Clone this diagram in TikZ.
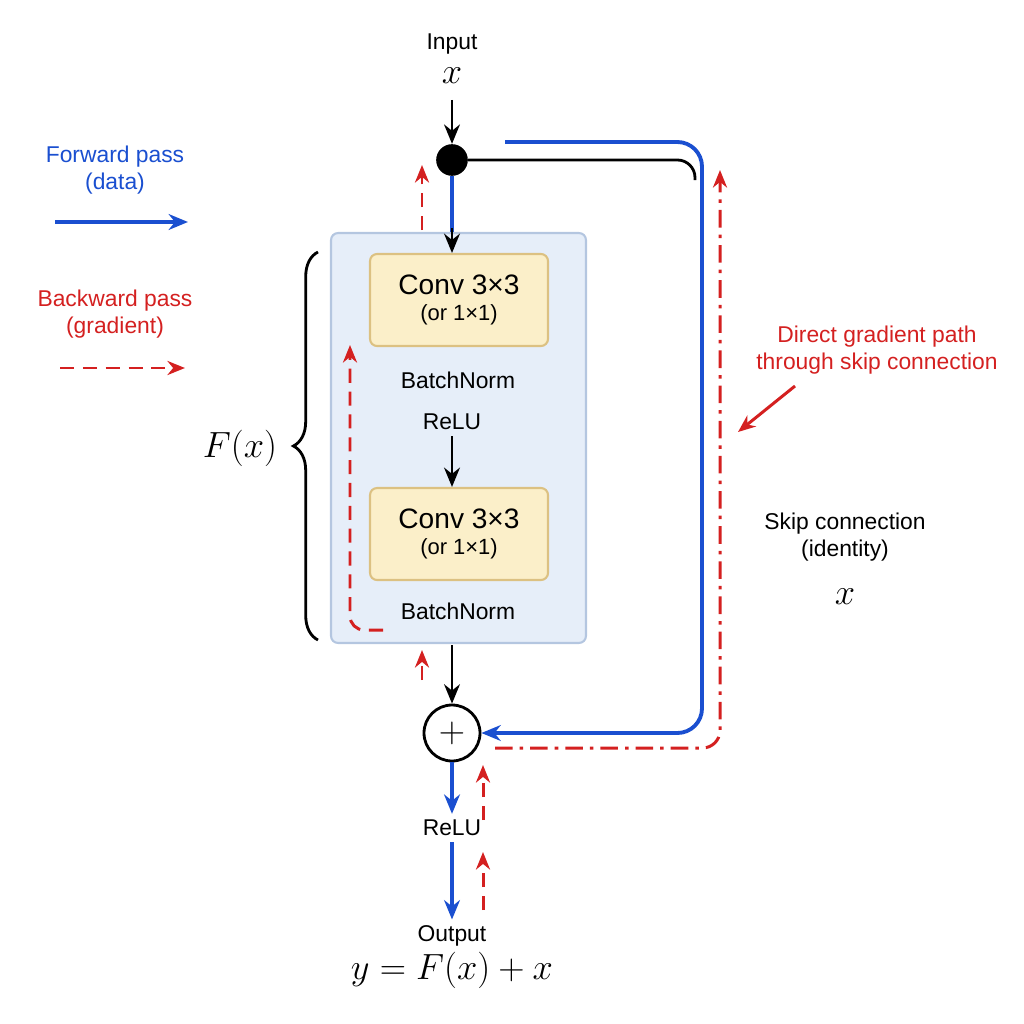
\documentclass[tikz,border=0pt]{standalone}
\usepackage{fontspec}
\setmainfont{Liberation Sans}
\usetikzlibrary{arrows.meta,decorations.pathreplacing,positioning}
\definecolor{fwd}{HTML}{1A4FD0}
\definecolor{bwd}{HTML}{D42020}
\definecolor{blockfill}{HTML}{E6EEF9}
\definecolor{blockdraw}{HTML}{B4C6E0}
\definecolor{convfill}{HTML}{FBEFC9}
\definecolor{convdraw}{HTML}{DCC182}
\tikzset{
	lbl/.style={font=\fontsize{13}{15}\selectfont},
	mth/.style={font=\fontsize{20}{22}\selectfont},
	conv/.style={draw=convdraw, fill=convfill, line width=1.2pt, rounded corners=4pt,
		minimum width=3.56cm, minimum height=1.84cm, align=center},
	fwdline/.style={fwd, line width=2.2pt, -{Stealth[length=11pt,width=9pt]}},
	blkarrow/.style={black, line width=1.6pt, -{Stealth[length=11pt,width=9pt]}},
	bwdline/.style={bwd, line width=1.7pt, dashed, dash pattern=on 8pt off 5pt, -{Stealth[length=10pt,width=8pt]}}
}
\begin{document}
\begin{tikzpicture}[x=0.02cm, y=-0.02cm]
	\useasboundingbox (0,0) rectangle (1024,1024);
	% Block
	\node[draw=blockdraw, fill=blockfill, line width=1.2pt, rounded corners=4pt,
		minimum width=5.1cm, minimum height=8.2cm] (block) at (458.5,438) {};
	\node[conv] (conv1) at (459,300) {\fontsize{16}{18}\selectfont Conv 3×3\\[3pt]\fontsize{12.5}{14}\selectfont (or 1×1)};
	\node[conv] (conv2) at (459,534) {\fontsize{16}{18}\selectfont Conv 3×3\\[3pt]\fontsize{12.5}{14}\selectfont (or 1×1)};
	\node[lbl] (bn1) at (458,380) {BatchNorm};
	\node[lbl] (relu1) at (452,422) {ReLU};
	\node[lbl] (bn2) at (458,611) {BatchNorm};
	% Input, output
	\node[lbl] (input) at (452,44) {Input};
	\node[mth] (xin) at (452,76) {$x$};
	\node[circle, fill=black, inner sep=0pt, minimum size=18pt] (dot) at (452,160) {};
	\node[circle, draw, line width=1.6pt, minimum size=1.12cm, inner sep=0pt, font=\huge] (plus) at (452,733) {$+$};
	\node[lbl] (relu2) at (452,828) {ReLU};
	\node[lbl] (output) at (452,936) {Output};
	\node[mth] (yout) at (452,970) {$y = F(x) + x$};
	% Forward
	\draw[blkarrow] (xin) ++(0,24) -- (dot);
	\draw[fwd, line width=2.2pt] (dot) -- (452,232);
	\draw[blkarrow] (452,228) -- (452,253);
	\draw[blkarrow] (relu1) -- (relu1 |- conv2.north);
	\draw[blkarrow] (452,645) -- (plus);
	\draw[fwdline] (plus) -- (relu2);
	\draw[fwdline] (relu2) -- (output);
	\draw[black, line width=1.6pt, rounded corners=10pt] (dot) -- (695,160) -- (695,180);
	\draw[fwdline, rounded corners=14pt] (505,142) -- (702,142) -- (702,733) -- (plus.east);
	% Backward
	\coordinate (gtop) at (720,170);
	\draw[bwdline, dash pattern=on 10pt off 4pt on 2pt off 4pt, rounded corners=10pt]
		(495,748) -- (720,748) -- (gtop);
	\draw[bwdline] (483,910) -- (483,852);
	\draw[bwdline] (483,820) -- (483,765);
	\draw[bwdline] (422,680) -- (422,650);
	\draw[bwdline] (422,230) -- (422,165);
	\draw[bwdline, rounded corners=8pt] (383,630) -- (350,630) -- (350,345);
	% Annotations
	\node[lbl, bwd, align=center] (direct) at (877,350) {Direct gradient path\\through skip connection};
	\draw[bwd, line width=1.7pt, -{Stealth[length=10pt,width=8pt]}] (795,386) -- (738,432);
	\node[lbl, align=center] (skip) at (845,537) {Skip connection\\(identity)};
	\node[mth] (xskip) at (845,597) {$x$};
	% Legend
	\node[lbl, fwd, align=center] (fwdlbl) at (115,170) {Forward pass\\(data)};
	\draw[fwdline] (55,222) -- (188,222);
	\node[lbl, bwd, align=center] (bwdlbl) at (115,314) {Backward pass\\(gradient)};
	\draw[bwdline] (60,368) -- (185,368);
	% F(x) brace
	\draw[line width=1.6pt, decorate, decoration={brace, amplitude=14pt}] (318,640) -- (318,252);
	\node[mth] (fx) at (240,448) {$F(x)$};
\end{tikzpicture}
\end{document}
